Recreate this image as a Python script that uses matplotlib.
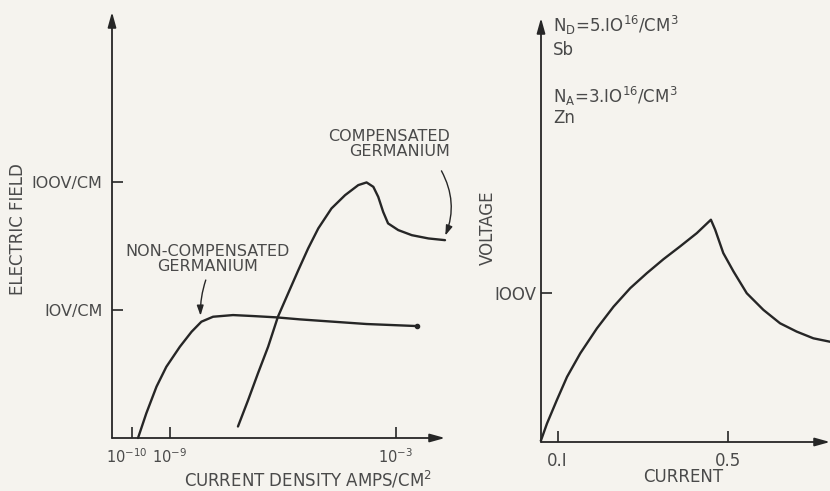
import matplotlib.pyplot as plt
from matplotlib.ticker import NullLocator
from matplotlib.transforms import ScaledTranslation

# left panel: electric field vs current density (log-log)
noncomp_log_j = [-9.84, -9.62, -9.35, -9.09, -8.73, -8.42, -8.16, -7.85, -7.32,
                 -6.79, -6.17, -5.55, -4.66, -3.78, -2.45]
noncomp_field = [1.0, 1.56, 2.52, 3.60, 5.17, 6.77, 8.11, 8.87, 9.14,
                 8.98, 8.77, 8.46, 8.11, 7.78, 7.50]

comp_log_j = [-7.19, -6.92, -6.66, -6.39, -6.13, -5.86, -5.59, -5.33, -5.06, -4.71,
              -4.35, -4.00, -3.78, -3.60, -3.47, -3.34, -3.21, -2.94, -2.58, -2.14,
              -1.70]
comp_field = [1.23, 1.98, 3.20, 5.17, 8.87, 13.5, 20.5, 30.3, 43.5, 62.3,
              79.1, 94.8, 99.5, 91.9, 76.7, 58.6, 47.6, 42.2, 38.5, 36.3,
              35.2]

j_ticks = [1e-10, 1e-9, 1e-3]
j_labels = [r'$\mathregular{10^{-10}}$', r'$\mathregular{10^{-9}}$', r'$\mathregular{10^{-3}}$']
e_ticks = [10, 100]
e_labels = ['IOV/CM', 'IOOV/CM']

# right panel: voltage vs current
current = [0.061, 0.075, 0.098, 0.122, 0.153, 0.192, 0.231, 0.270, 0.309, 0.348,
           0.387, 0.426, 0.459, 0.469, 0.488, 0.512, 0.543, 0.582, 0.621, 0.660,
           0.699, 0.738]
voltage = [1.1, 12.4, 28.1, 43.8, 59.6, 76.4, 91.0, 103.4, 113.5, 122.9,
           131.5, 140.4, 149.4, 142.7, 127.0, 114.6, 100.0, 88.8, 79.8, 74.2,
           69.7, 67.4]
i_ticks = [0.1, 0.5]
i_labels = ['0.I', '0.5']
v_ticks = [100]
v_labels = ['IOOV']

BG = '#f5f3ee'
INK = '#262626'
TXT = '#4a4a4a'
FS = 12

plt.rcParams['font.family'] = ['DejaVu Sans']
fig = plt.figure(figsize=(8.3, 4.91), dpi=100, facecolor=BG)


def axis_arrows(ax):
    for s in ax.spines.values():
        s.set_visible(False)
    kw = dict(xycoords='axes fraction', textcoords='axes fraction',
              arrowprops=dict(arrowstyle='-|>,head_length=0.9,head_width=0.25',
                              color=INK, lw=1.3, shrinkA=0, shrinkB=0))
    ax.annotate('', xy=(1, 0), xytext=(0, 0), **kw)
    ax.annotate('', xy=(0, 1), xytext=(0, 0), **kw)
    ax.tick_params(direction='in', length=8, width=1.2, color=INK,
                   labelcolor=TXT, labelsize=FS)
    ax.xaxis.set_minor_locator(NullLocator())
    ax.yaxis.set_minor_locator(NullLocator())


# ---- left panel
ax1 = fig.add_axes([112 / 830, 53 / 491, 333 / 830, 426 / 491], facecolor=BG)
ax1.set_xscale('log')
ax1.set_yscale('log')
ax1.set_xlim(10 ** -10.53, 10 ** -1.70)
ax1.set_ylim(1, 10 ** 3.33)
axis_arrows(ax1)
ax1.plot([10 ** v for v in noncomp_log_j], noncomp_field, color=INK, lw=1.7,
         solid_capstyle='round', solid_joinstyle='round', clip_on=False)
ax1.plot([10 ** noncomp_log_j[-1]], [noncomp_field[-1]], 'o', ms=3, color=INK)
ax1.plot([10 ** v for v in comp_log_j], comp_field, color=INK, lw=1.7,
         solid_capstyle='round', solid_joinstyle='round', clip_on=False)

ax1.set_xticks(j_ticks)
ax1.set_xticklabels(j_labels)
ax1.set_yticks(e_ticks)
ax1.set_yticklabels(e_labels)
ax1.tick_params(axis='x', pad=7, labelsize=10.5)
ax1.tick_params(axis='y', pad=7, labelsize=11.5)
lab0 = ax1.get_xticklabels()[0]
lab0.set_transform(lab0.get_transform() + ScaledTranslation(-4 / 72, 0, fig.dpi_scale_trans))

ax1.set_ylabel('ELECTRIC FIELD', fontsize=FS, color=TXT)
ax1.yaxis.set_label_coords(-0.255, 0.49)
ax1.set_xlabel(r'CURRENT DENSITY AMPS/CM$\mathregular{^2}$', fontsize=FS, color=TXT)
ax1.xaxis.set_label_coords(0.589, -0.074)

ax1.text(10 ** -1.57, 198, 'COMPENSATED\nGERMANIUM', ha='right', va='center',
         multialignment='right', fontsize=FS - 0.5, color=TXT, linespacing=1.0)
ax1.annotate('', xy=(10 ** -1.72, 36.5), xytext=(10 ** -1.83, 128),
             arrowprops=dict(arrowstyle='-|>,head_length=0.6,head_width=0.2',
                             color=INK, lw=1.0, connectionstyle='arc3,rad=-0.25'))

ax1.text(10 ** -7.99, 25, 'NON-COMPENSATED\nGERMANIUM', ha='center', va='center',
         fontsize=FS - 0.5, color=TXT, linespacing=1.0)
ax1.annotate('', xy=(10 ** -8.18, 8.6), xytext=(10 ** -8.02, 18),
             arrowprops=dict(arrowstyle='-|>,head_length=0.6,head_width=0.2',
                             color=INK, lw=1.0, connectionstyle='arc3,rad=0.1'))

# ---- right panel
ax2 = fig.add_axes([541 / 830, 49 / 491, 289 / 830, 424 / 491], facecolor=BG)
ax2.set_xlim(0.061, 0.738)
ax2.set_ylim(0, 285)
axis_arrows(ax2)
ax2.plot(current, voltage, color=INK, lw=1.7, solid_joinstyle='round', clip_on=False)

ax2.set_xticks(i_ticks)
ax2.set_xticklabels(i_labels)
ax2.set_yticks(v_ticks)
ax2.set_yticklabels(v_labels)
ax2.tick_params(axis='x', pad=7)
ax2.tick_params(axis='y', pad=3)

ax2.set_ylabel('VOLTAGE', fontsize=FS, color=TXT)
ax2.yaxis.set_label_coords(-0.152, 0.505)
ax2.set_xlabel('CURRENT', fontsize=FS, color=TXT)
ax2.xaxis.set_label_coords(0.491, -0.061)

ax2.text(0.042, 0.983, r'N$\mathregular{_D}$=5.IO$\mathregular{^{16}}$/CM$\mathregular{^3}$',
         transform=ax2.transAxes, ha='left', va='center', fontsize=FS, color=TXT)
ax2.text(0.042, 0.925, 'Sb', transform=ax2.transAxes, ha='left', va='center',
         fontsize=FS, color=TXT)
ax2.text(0.042, 0.816, r'N$\mathregular{_A}$=3.IO$\mathregular{^{16}}$/CM$\mathregular{^3}$',
         transform=ax2.transAxes, ha='left', va='center', fontsize=FS, color=TXT)
ax2.text(0.042, 0.764, 'Zn', transform=ax2.transAxes, ha='left', va='center',
         fontsize=FS, color=TXT)

fig.savefig('out.png', dpi=100, facecolor=BG)
